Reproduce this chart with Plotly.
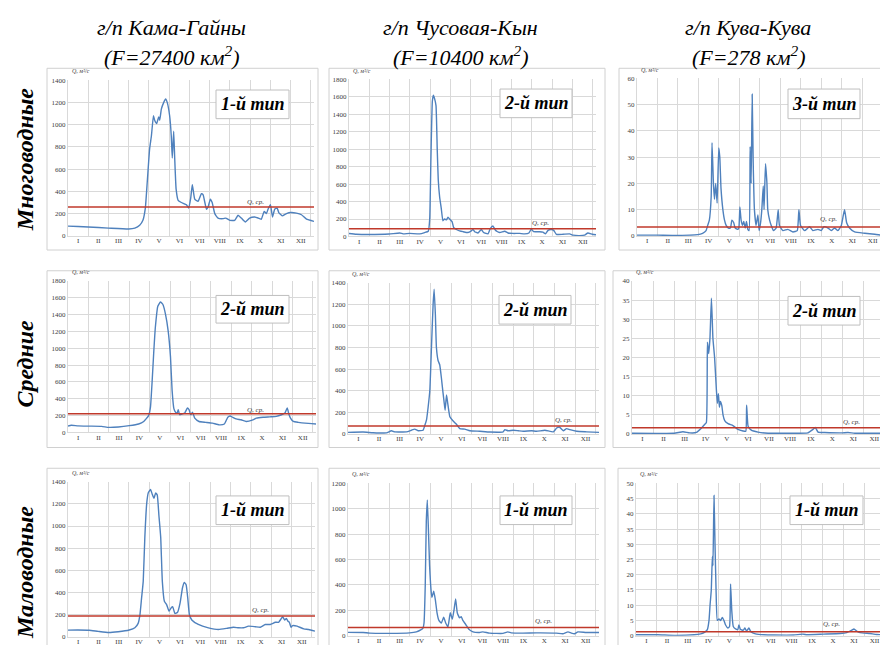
import plotly.graph_objects as go

W, H = 888, 645

# ---------------- data ----------------
month_labels = ["I", "II", "III", "IV", "V", "VI", "VII", "VIII", "IX", "X", "XI", "XII"]
month_centers = [0.5, 1.5, 2.5, 3.5, 4.5, 5.5, 6.5, 7.5, 8.5, 9.5, 10.5, 11.5]

col_titles = ["г/п Кама-Гайны", "г/п Чусовая-Кын", "г/п Кува-Кува"]
col_areas = ["(F=27400 км<sup>2</sup>)", "(F=10400 км<sup>2</sup>)", "(F=278 км<sup>2</sup>)"]
row_titles = ["Многоводные", "Средние", "Маловодные"]

type_labels = ["1-й тип", "2-й тип", "3-й тип",
               "2-й тип", "2-й тип", "2-й тип",
               "1-й тип", "1-й тип", "1-й тип"]
mean_q = [260, 90, 3.4, 223, 73, 1.6, 186, 65, 1.3]
y_max = [1400, 1800, 60, 1800, 1400, 40, 1400, 1200, 50]
y_step = [200, 200, 10, 200, 200, 5, 200, 200, 5]

# Кама-Гайны, многоводный
kama_high_m = [0, 0.5, 1.0, 2.0, 3.0, 3.3, 3.54, 3.7, 3.82, 3.92, 4.03, 4.12, 4.22, 4.28, 4.38, 4.48,
               4.53, 4.61, 4.73, 4.82, 4.9, 5.02, 5.1, 5.15, 5.22, 5.27, 5.34, 5.44, 5.6, 5.85, 5.96,
               6.06, 6.14, 6.26, 6.42, 6.59, 6.67, 6.84, 6.92, 7.03, 7.12, 7.25, 7.41, 7.66, 7.79,
               7.99, 8.23, 8.4, 8.56, 8.76, 8.97, 9.22, 9.47, 9.55, 9.69, 9.8, 9.88, 10.0, 10.1,
               10.21, 10.33, 10.41, 10.58, 10.79, 11.0, 11.28, 11.53, 11.78, 12.15]
kama_high_q = [88, 84, 80, 70, 62, 70, 95, 140, 250, 500, 780, 900, 1080, 1040, 1010, 1070,
               1040, 1140, 1200, 1230, 1200, 1080, 900, 700, 940, 700, 420, 320, 300, 280, 250,
               340, 460, 330, 310, 380, 370, 240, 260, 330, 300, 200, 160, 155, 160,
               140, 140, 185, 160, 125, 160, 170, 155, 150, 220, 200, 240, 280, 170,
               240, 250, 210, 180, 200, 210, 205, 190, 150, 130]

# Чусовая-Кын, многоводный
chus_high_m = [0, 0.36, 0.97, 1.97, 2.5, 2.66, 2.98, 3.48, 3.72, 3.9, 3.97, 4.03, 4.1, 4.15, 4.21,
               4.28, 4.34, 4.39, 4.46, 4.54, 4.62, 4.7, 4.79, 4.87, 4.95, 5.07, 5.15, 5.28, 5.44,
               5.61, 5.85, 6.02, 6.1, 6.18, 6.34, 6.51, 6.62, 6.84, 6.95, 7.08, 7.21, 7.41, 7.66,
               7.82, 8.07, 8.39, 8.64, 8.85, 8.97, 9.08, 9.38, 9.54, 9.67, 9.79, 9.95, 10.07,
               10.2, 10.52, 10.85, 11.02, 11.34, 11.59, 11.75, 11.97, 12.15]
chus_high_q = [34, 25, 22, 28, 40, 30, 35, 30, 45, 60, 200, 900, 1550, 1620, 1580,
               1500, 1000, 650, 450, 320, 180, 200, 190, 220, 200, 170, 100, 80, 65,
               55, 45, 65, 80, 55, 40, 80, 45, 30, 90, 120, 70, 45, 60,
               40, 35, 35, 30, 40, 85, 55, 55, 50, 30, 70, 80, 70,
               25, 25, 30, 15, 10, 15, 40, 25, 20]

# Кува-Кува, многоводный
kuva_high_m = [0, 1.0, 1.8, 2.96, 3.2, 3.37, 3.45, 3.53, 3.62, 3.66, 3.73, 3.78, 3.84, 3.91, 3.99,
               4.04, 4.1, 4.19, 4.27, 4.35, 4.46, 4.56, 4.63, 4.72, 4.79, 4.92, 4.97, 5.02, 5.08,
               5.15, 5.21, 5.28, 5.34, 5.41, 5.47, 5.52, 5.57, 5.62, 5.67, 5.73, 5.81, 5.9, 5.96,
               6.03, 6.09, 6.16, 6.2, 6.27, 6.34, 6.38, 6.47, 6.55, 6.66, 6.79, 6.89, 6.95, 7.12,
               7.36, 7.61, 7.82, 7.9, 7.98, 8.18, 8.42, 8.58, 8.83, 8.99, 9.12, 9.32, 9.48, 9.64,
               9.8, 9.97, 10.07, 10.13, 10.23, 10.37, 10.62, 11.11, 11.6, 11.92, 12.15]
kuva_high_q = [0.3, 0.3, 0.2, 0.5, 1, 2, 4, 6, 15, 35.5, 20, 14, 20, 12.5, 33.5,
               30, 18, 10, 6, 4, 3, 3, 6, 5, 3, 2.5, 3, 11, 6,
               4, 5.5, 3, 5.5, 2.5, 2, 34, 20, 54, 28, 10, 4, 8, 2,
               5, 10, 19, 10, 27.5, 20, 10, 6, 4, 2, 3, 10, 4, 2,
               2.5, 1.5, 2, 10, 4, 2, 3.5, 2, 2.5, 2, 3.5, 3, 2, 3,
               2, 4, 8, 10, 5, 3, 1.5, 1, 0.6, 0.3, 0.8]

# Кама-Гайны, средний
kama_mid_m = [0, 0.16, 0.49, 1.0, 1.65, 2.0, 2.47, 3.0, 3.46, 3.71, 3.95, 4.04, 4.12, 4.2, 4.28,
              4.4, 4.53, 4.65, 4.78, 4.91, 5.02, 5.1, 5.19, 5.27, 5.35, 5.4, 5.47, 5.6, 5.72,
              5.85, 5.93, 6.01, 6.1, 6.21, 6.42, 6.75, 7.08, 7.41, 7.66, 7.83, 7.94, 8.07, 8.24,
              8.48, 8.73, 9.06, 9.23, 9.56, 9.88, 10.21, 10.46, 10.63, 10.74, 10.82, 10.9, 11.04,
              11.28, 11.61, 12.15]
kama_mid_q = [75, 86, 78, 75, 72, 60, 65, 80, 100, 130, 200, 300, 600, 950, 1250,
              1500, 1550, 1520, 1400, 1200, 900, 500, 280, 240, 230, 270, 210, 220, 230,
              290, 270, 210, 240, 170, 130, 120, 110, 90, 100, 180, 195, 180, 160,
              150, 130, 150, 170, 180, 185, 190, 210, 230, 290, 220, 170, 130,
              120, 110, 100]

# Чусовая-Кын, средний
chus_mid_m = [0, 0.73, 1.21, 1.86, 2.1, 2.26, 2.83, 3.07, 3.23, 3.39, 3.63, 3.72, 3.8, 3.88, 3.96,
              4.04, 4.12, 4.17, 4.23, 4.28, 4.36, 4.44, 4.52, 4.6, 4.65, 4.7, 4.77, 4.83, 4.93,
              5.09, 5.25, 5.41, 5.65, 5.9, 6.38, 6.87, 7.51, 7.59, 7.75, 8.0, 8.24, 8.48, 8.89,
              9.13, 9.53, 9.94, 10.1, 10.23, 10.42, 10.58, 10.74, 11.07, 11.55, 12.15]
chus_mid_q = [15, 18, 12, 10, 30, 20, 20, 35, 45, 30, 35, 80, 130, 250, 400,
              800, 1200, 1340, 1100, 800, 680, 640, 520, 380, 300, 220, 360, 280, 160,
              120, 90, 50, 45, 30, 25, 18, 20, 40, 30, 35, 30, 25, 30,
              25, 35, 20, 55, 65, 30, 50, 40, 25, 20, 15]

# Кува-Кува, средний
kuva_mid_m = [0, 2.0, 2.42, 2.74, 3.05, 3.29, 3.45, 3.53, 3.58, 3.64, 3.7, 3.77, 3.84, 3.92, 4.0,
              4.05, 4.1, 4.15, 4.19, 4.26, 4.32, 4.4, 4.56, 4.79, 5.03, 5.27, 5.4, 5.44, 5.51,
              5.66, 5.98, 6.46, 7.09, 8.35, 8.59, 8.7, 8.83, 9.15, 9.94, 10.25, 10.57, 11.52, 12.15]
kuva_mid_q = [0.2, 0.2, 0.6, 0.3, 0.4, 1.5, 2.5, 3, 24, 21, 25, 35.5, 25, 20, 12,
              8, 10.5, 7, 8.5, 7.5, 5, 3.5, 2.7, 2.2, 1.2, 0.8, 0.7, 7.5, 2,
              1, 0.5, 0.2, 0.2, 0.3, 1.2, 1.7, 0.5, 0.4, 0.3, 0.4, 0.2, 0.2, 0.2]

# Кама-Гайны, маловодный
kama_low_m = [0, 0.49, 1.04, 1.48, 2.0, 2.47, 3.01, 3.29, 3.45, 3.54, 3.62, 3.7, 3.78, 3.87, 3.95,
              4.06, 4.14, 4.23, 4.31, 4.39, 4.47, 4.56, 4.64, 4.74, 4.85, 4.97, 5.07, 5.15, 5.26,
              5.39, 5.51, 5.63, 5.72, 5.81, 5.89, 5.97, 6.09, 6.41, 6.91, 7.4, 7.81, 8.14, 8.39,
              8.63, 8.88, 9.21, 9.46, 9.7, 9.95, 10.2, 10.36, 10.48, 10.56, 10.66, 10.74, 10.82,
              10.89, 10.97, 11.05, 11.27, 11.6, 11.84, 12.15]
kama_low_q = [59, 60, 58, 48, 38, 45, 60, 80, 120, 200, 350, 500, 900, 1200, 1300,
              1330, 1290, 1250, 1300, 1280, 1100, 900, 500, 320, 290, 230, 260, 270, 210,
              220, 300, 440, 490, 470, 350, 200, 150, 110, 80, 65, 75, 85, 80,
              80, 95, 90, 85, 110, 110, 130, 130, 160, 180, 150, 165, 140,
              130, 85, 100, 95, 70, 65, 50]

# Чусовая-Кын, маловодный
chus_low_m = [0, 0.73, 1.05, 2.02, 2.98, 3.31, 3.52, 3.63, 3.68, 3.74, 3.79, 3.84, 3.9, 3.95, 4.0,
              4.06, 4.15, 4.23, 4.31, 4.4, 4.52, 4.63, 4.73, 4.84, 4.95, 5.05, 5.13, 5.21, 5.29,
              5.4, 5.48, 5.56, 5.69, 5.85, 6.05, 6.37, 6.53, 6.85, 7.5, 7.74, 7.9, 8.47, 9.11,
              10.08, 10.4, 10.65, 10.81, 10.97, 11.13, 11.53, 12.15]
chus_low_q = [26, 25, 20, 18, 22, 30, 45, 60, 100, 400, 900, 1070, 800, 550, 400,
              300, 350, 280, 180, 120, 100, 145, 100, 70, 180, 130, 200, 290, 180,
              140, 150, 120, 90, 50, 30, 25, 30, 20, 18, 30, 22, 20, 22,
              20, 15, 30, 20, 15, 30, 25, 25]

# Кува-Кува, маловодный
kuva_low_m = [0, 1.04, 1.84, 2.8, 3.12, 3.28, 3.44, 3.52, 3.57, 3.63, 3.68, 3.71, 3.76, 3.81, 3.86,
              3.92, 4.0, 4.08, 4.16, 4.24, 4.32, 4.43, 4.51, 4.56, 4.62, 4.69, 4.8, 4.91, 4.96,
              5.04, 5.17, 5.25, 5.33, 5.44, 5.55, 5.76, 6.16, 6.64, 7.6, 8.05, 8.24, 9.04, 9.84,
              10.16, 10.4, 10.51, 10.64, 10.8, 11.28, 11.6, 12.15]
kuva_low_q = [0.3, 0.3, 0.1, 0.3, 0.6, 1, 2, 5, 10, 15, 26, 23, 46, 30, 15,
              5, 5.5, 5, 6, 5, 3.5, 2.5, 3, 17, 8, 3, 2.2, 2, 3.5,
              2, 1.8, 2.5, 1.5, 2.5, 1.2, 0.6, 0.3, 0.2, 0.2, 0.5, 0.3, 0.5, 0.7,
              1, 1.8, 2.2, 1.5, 1, 0.7, 0.4, 0.3]

series_m = [kama_high_m, chus_high_m, kuva_high_m,
            kama_mid_m, chus_mid_m, kuva_mid_m,
            kama_low_m, chus_low_m, kuva_low_m]
series_q = [kama_high_q, chus_high_q, kuva_high_q,
            kama_mid_q, chus_mid_q, kuva_mid_q,
            kama_low_q, chus_low_q, kuva_low_q]

# ---------------- layout geometry (pixels) ----------------
plot_boxes = [  # x0, x1, y_top, y_bottom
    (60, 306, 69, 226.7), (341, 588, 68.3, 227.3), (629, 878, 67.3, 226.7),
    (60, 308, 272.3, 425.7), (340, 591, 274, 427.3), (624, 880, 272.3, 427.3),
    (60, 307, 475.7, 632.5), (340, 591, 477.3, 631.5), (628, 880, 477.3, 631.5),
]
frame_boxes = [
    (39, 310, 57, 241), (321, 597, 57, 241), (611, 886, 57, 241),
    (39, 310, 262, 441), (321, 597, 262, 441), (605, 886, 262, 441),
    (39, 310, 462, 644), (321, 597, 462, 644), (610, 886, 462, 644),
]
type_boxes = [
    (208, 281, 79, 108), (492, 564, 78, 107), (780, 852, 78, 108),
    (208, 281, 287, 315), (491, 563, 287, 316), (780, 852, 288, 317),
    (208, 281, 490, 519), (492, 564, 490, 519), (782, 855, 490, 519),
]
qsr_pos = [(248, 192), (532, 214), (820, 210), (248, 403), (555, 413), (843, 415),
           (252, 606), (535, 617), (823, 620)]

X_END = 12.15
SERIF = "Times New Roman, Liberation Serif, serif"
BLUE = "#4f81bd"
RED = "#c0392b"
GRID = "#d9d9d9"

def px(x):
    return x / W

def py(y):
    return 1 - y / H

fig = go.Figure()
shapes = []
annotations = []

for i in range(9):
    k = "" if i == 0 else str(i + 1)
    xa, ya = "x" + k, "y" + k
    x0, x1, yt, yb = plot_boxes[i]

    # panel frame
    fx0, fx1, fy0, fy1 = frame_boxes[i]
    shapes.append(dict(type="rect", xref="paper", yref="paper",
                       x0=px(fx0), x1=px(fx1), y0=py(fy1), y1=py(fy0),
                       line=dict(color="#d0d0d0", width=1), fillcolor="white", layer="below"))

    fig.add_trace(go.Scatter(x=series_m[i], y=series_q[i], mode="lines",
                             line=dict(color=BLUE, width=1.4, shape="spline", smoothing=0.4),
                             xaxis=xa, yaxis=ya, showlegend=False, hoverinfo="skip"))
    fig.add_trace(go.Scatter(x=[0, X_END], y=[mean_q[i], mean_q[i]], mode="lines",
                             line=dict(color=RED, width=1.5),
                             xaxis=xa, yaxis=ya, showlegend=False, hoverinfo="skip"))

    fig.layout["xaxis" + k] = dict(
        domain=[px(x0), px(x1)], anchor=ya, range=[0, X_END],
        tickmode="array", tickvals=month_centers, ticktext=month_labels,
        showgrid=False, zeroline=False, ticks="", showline=True, linecolor=GRID,
        tickfont=dict(family=SERIF, size=7, color="#404040"),
        ticklabelstandoff=-2,
        minor=dict(tick0=0, dtick=1, showgrid=True, gridcolor=GRID, gridwidth=1, ticks=""),
        fixedrange=True,
    )
    fig.layout["yaxis" + k] = dict(
        domain=[py(yb), py(yt)], anchor=xa, range=[0, y_max[i]],
        tickmode="linear", tick0=0, dtick=y_step[i],
        showgrid=True, gridcolor=GRID, gridwidth=1, zeroline=False,
        showline=True, linecolor=GRID, ticks="",
        tickfont=dict(family=SERIF, size=7, color="#404040"),
        fixedrange=True,
    )

    # units label
    annotations.append(dict(xref="paper", yref="paper", x=px(x0 + 2), y=py(yt - 4),
                            xanchor="left", yanchor="bottom", showarrow=False,
                            text="<i>Q, м³/с</i>", font=dict(family=SERIF, size=6, color="#404040")))
    # Q mean label
    qx, qy = qsr_pos[i]
    annotations.append(dict(xref="paper", yref="paper", x=px(qx), y=py(qy),
                            xanchor="center", yanchor="middle", showarrow=False,
                            text="<i>Q, ср.</i>", font=dict(family=SERIF, size=7, color="#404040")))
    # type box
    bx0, bx1, by0, by1 = type_boxes[i]
    shapes.append(dict(type="rect", xref="paper", yref="paper",
                       x0=px(bx0), x1=px(bx1), y0=py(by1), y1=py(by0),
                       line=dict(color="#bfbfbf", width=1), fillcolor="white", layer="above"))
    annotations.append(dict(xref="paper", yref="paper", x=px((bx0 + bx1) / 2), y=py((by0 + by1) / 2),
                            xanchor="center", yanchor="middle", showarrow=False,
                            text="<b><i>" + type_labels[i] + "</i></b>",
                            font=dict(family=SERIF, size=18, color="black")))

col_cx = [163, 453, 740]
for c in range(3):
    annotations.append(dict(xref="paper", yref="paper", x=px(col_cx[c]), y=py(16),
                            xanchor="center", yanchor="middle", showarrow=False,
                            text="<i>" + col_titles[c] + "</i>",
                            font=dict(family=SERIF, size=22, color="black")))
    annotations.append(dict(xref="paper", yref="paper", x=px(col_cx[c]), y=py(45),
                            xanchor="center", yanchor="middle", showarrow=False,
                            text="<i>" + col_areas[c] + "</i>",
                            font=dict(family=SERIF, size=22, color="black")))

row_cy = [150, 356, 568]
for r in range(3):
    annotations.append(dict(xref="paper", yref="paper", x=px(17), y=py(row_cy[r]),
                            xanchor="center", yanchor="middle", showarrow=False, textangle=-90,
                            text="<b><i>" + row_titles[r] + "</i></b>",
                            font=dict(family=SERIF, size=24, color="black")))

fig.update_layout(
    width=W, height=H, margin=dict(l=0, r=0, t=0, b=0),
    paper_bgcolor="white", plot_bgcolor="rgba(0,0,0,0)",
    shapes=shapes, annotations=annotations, showlegend=False,
)

fig.write_html("out.html", config={"displayModeBar": False})
